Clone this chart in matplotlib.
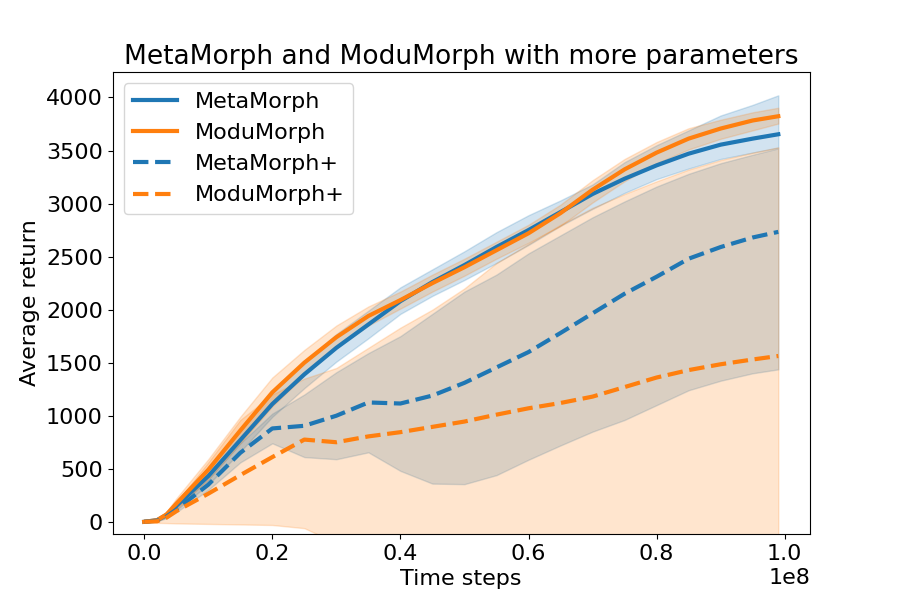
import matplotlib
matplotlib.use("Agg")
import matplotlib.pyplot as plt
import numpy as np

# time steps (x 1e8)
steps = np.array([0, 0.02, 0.035, 0.05, 0.1, 0.15, 0.2, 0.25, 0.3, 0.35, 0.4, 0.45,
                  0.5, 0.55, 0.6, 0.65, 0.7, 0.75, 0.8, 0.85, 0.9, 0.95, 0.99]) * 1e8

meta_mean = [0, 15, 65, 150, 430, 770, 1110, 1390, 1640, 1860, 2080, 2260,
             2420, 2590, 2750, 2920, 3090, 3234, 3360, 3470, 3555, 3612, 3653]
meta_low = [0, 5, 45, 110, 350, 660, 990, 1260, 1510, 1730, 1960, 2130,
            2280, 2440, 2610, 2790, 2950, 3100, 3230, 3330, 3420, 3480, 3527]
meta_high = [0, 25, 85, 190, 510, 880, 1230, 1510, 1770, 1990, 2210, 2380,
             2550, 2730, 2890, 3030, 3180, 3390, 3550, 3690, 3830, 3930, 4020]

modu_mean = [0, 15, 70, 170, 490, 860, 1220, 1500, 1740, 1940, 2090, 2250,
             2400, 2560, 2720, 2910, 3130, 3322, 3480, 3612, 3707, 3783, 3823]
modu_low = [0, 5, 45, 120, 400, 740, 1090, 1380, 1640, 1850, 2010, 2170,
            2320, 2480, 2630, 2790, 3010, 3210, 3380, 3510, 3610, 3690, 3754]
modu_high = [0, 25, 95, 220, 590, 990, 1360, 1620, 1850, 2030, 2170, 2330,
             2480, 2640, 2800, 2990, 3220, 3420, 3580, 3710, 3790, 3860, 3903]

metap_mean = [0, 10, 50, 115, 350, 650, 880, 905, 1000, 1125, 1115, 1190,
              1310, 1455, 1600, 1780, 1965, 2150, 2310, 2480, 2590, 2680, 2733]
metap_low = [0, 5, 35, 90, 300, 560, 740, 610, 590, 655, 480, 360,
             355, 440, 585, 720, 850, 960, 1100, 1240, 1330, 1400, 1437]
metap_high = [0, 15, 65, 140, 400, 740, 1020, 1200, 1410, 1590, 1750, 1960,
              2170, 2330, 2530, 2700, 2870, 3020, 3160, 3280, 3380, 3460, 3520]

modup_mean = [0, 5, 40, 100, 265, 440, 610, 775, 750, 805, 845, 895,
              945, 1010, 1070, 1120, 1180, 1270, 1360, 1430, 1485, 1530, 1563]
modup_low = [0, -10, -12, -15, -20, -25, -30, -60, -200, -330, -400, -420,
             -430, -440, -450, -460, -470, -480, -490, -500, -500, -500, -500]
modup_high = [0, 10, 80, 180, 560, 960, 1200, 1350, 1450, 1640, 1830, 2000,
              2200, 2440, 2620, 2800, 2960, 3090, 3210, 3320, 3410, 3480, 3530]

plt.rcParams["font.size"] = 16

fig, ax = plt.subplots(figsize=(9, 6), dpi=100)

ax.plot(steps, meta_mean, color="C0", linewidth=3, label="MetaMorph")
ax.fill_between(steps, meta_low, meta_high, color="C0", alpha=0.2)
ax.plot(steps, modu_mean, color="C1", linewidth=3, label="ModuMorph")
ax.fill_between(steps, modu_low, modu_high, color="C1", alpha=0.2)
ax.plot(steps, metap_mean, color="C0", linewidth=3, linestyle="--", label="MetaMorph+")
ax.fill_between(steps, metap_low, metap_high, color="C0", alpha=0.2)
ax.plot(steps, modup_mean, color="C1", linewidth=3, linestyle="--", label="ModuMorph+")
ax.fill_between(steps, modup_low, modup_high, color="C1", alpha=0.2)

ax.set_ylim(-115, 4240)
ax.set_title("MetaMorph and ModuMorph with more parameters", fontsize=19)
ax.set_xlabel("Time steps")
ax.set_ylabel("Average return")
ax.legend(loc="upper left")

fig.savefig("out.png")
